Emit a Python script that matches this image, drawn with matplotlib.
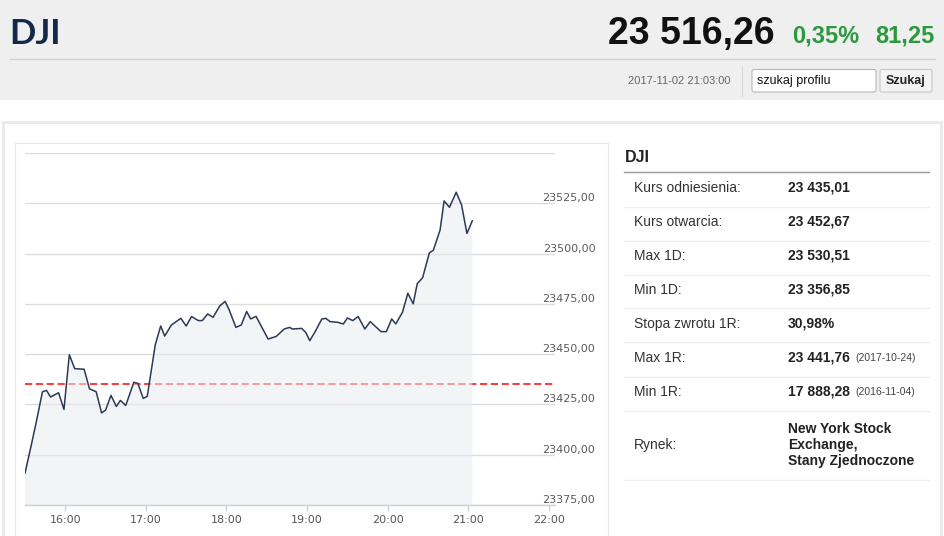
import numpy as np
import matplotlib
matplotlib.use("Agg")
import matplotlib.pyplot as plt
from matplotlib.patches import Rectangle, FancyBboxPatch

# data
times = ["15:30", "15:35", "15:38", "15:43", "15:46", "15:49", "15:55", "15:59", "16:03", "16:07",
         "16:14", "16:18", "16:23", "16:27", "16:30", "16:34", "16:38", "16:41", "16:45", "16:51",
         "16:54", "16:58", "17:01", "17:07", "17:11", "17:14", "17:19", "17:26", "17:30", "17:34",
         "17:39", "17:42", "17:46", "17:50", "17:55", "17:59", "18:02", "18:07", "18:11", "18:15",
         "18:18", "18:22", "18:25", "18:31", "18:37", "18:43", "18:47", "18:49", "18:56", "18:59",
         "19:02", "19:06", "19:11", "19:14", "19:17", "19:23", "19:27", "19:30", "19:34", "19:38",
         "19:43", "19:47", "19:51", "19:55", "19:59", "20:03", "20:06", "20:11", "20:15", "20:19",
         "20:22", "20:26", "20:31", "20:34", "20:39", "20:42", "20:46", "20:51", "20:55", "20:59",
         "21:03"]
prices = [23390.8, 23405.8, 23415.0, 23431.3, 23432.0, 23428.7, 23430.8, 23422.5, 23449.7, 23442.8,
          23442.5, 23432.8, 23431.3, 23420.8, 23422.2, 23429.5, 23424.0, 23427.0, 23424.5, 23436.0,
          23435.5, 23428.0, 23429.0, 23454.7, 23464.0, 23459.0, 23464.5, 23467.8, 23464.0, 23468.7,
          23466.7, 23466.7, 23470.0, 23468.3, 23474.0, 23476.2, 23472.0, 23463.3, 23464.5, 23471.2,
          23467.5, 23468.8, 23465.0, 23457.5, 23458.8, 23462.5, 23463.3, 23462.5, 23462.8, 23460.8,
          23456.7, 23461.2, 23467.5, 23467.8, 23466.2, 23465.8, 23465.0, 23468.0, 23466.7, 23468.7,
          23462.5, 23466.2, 23463.7, 23461.2, 23461.2, 23467.5, 23465.0, 23470.8, 23480.3, 23475.0,
          23485.0, 23488.0, 23500.3, 23501.7, 23511.7, 23526.2, 23523.0, 23530.5, 23524.2, 23510.0,
          23516.3]
ref_price = 23435.01
y_ticks = [23375, 23400, 23425, 23450, 23475, 23500, 23525, 23550]
x_hours = [16, 17, 18, 19, 20, 21, 22]

# side table
row_labels = ["Kurs odniesienia:", "Kurs otwarcia:", "Max 1D:", "Min 1D:",
              "Stopa zwrotu 1R:", "Max 1R:", "Min 1R:", "Rynek:"]
row_values = ["23 435,01", "23 452,67", "23 530,51", "23 356,85", "30,98%",
              "23 441,76", "17 888,28", "New York Stock\nExchange,\nStany Zjednoczone"]
row_notes = ["", "", "", "", "", "(2017-10-24)", "(2016-11-04)", ""]

hours = [int(t[:2]) + int(t[3:]) / 60 for t in times]

W, H = 945, 536
fig = plt.figure(figsize=(W / 100, H / 100), dpi=100)

# page background in pixel coords
bg = fig.add_axes([0, 0, 1, 1], zorder=0)
bg.set_xlim(0, W)
bg.set_ylim(H, 0)
bg.axis("off")

bg.add_patch(Rectangle((0, 0), W, 100, facecolor="#efefef", edgecolor="none"))
bg.plot([10, 935], [59, 59], color="#d2d2d2", lw=1)
bg.add_patch(Rectangle((3, 121.5), 938, 420, facecolor="white", edgecolor="#ebebeb", lw=2.2))
bg.add_patch(Rectangle((15, 143), 593, 400, facecolor="white", edgecolor="#e6e6e6", lw=0.8))

narrow = ["Liberation Sans Narrow", "Liberation Sans", "DejaVu Sans"]
bg.text(9, 34, "DJI", fontsize=25, fontweight="bold", color="#13284a",
        family=["Lato", "DejaVu Sans"], va="center", ha="left")
bg.text(775, 34, "23 516,26", fontsize=27, fontweight="bold", color="#111111",
        family=narrow, va="center", ha="right")
bg.text(792, 36, "0,35%", fontsize=17, fontweight="bold", color="#2a9a3c",
        family=narrow, va="center", ha="left")
bg.text(935, 36, "81,25", fontsize=17, fontweight="bold", color="#2a9a3c",
        family=narrow, va="center", ha="right")

bg.text(730, 81, "2017-11-02 21:03:00", fontsize=8, color="#666666",
        family=narrow, va="center", ha="right")
bg.plot([742, 742], [67, 96], color="#d8d8d8", lw=0.8)
bg.add_patch(FancyBboxPatch((752, 69.5), 124, 22.5, boxstyle="round,pad=0,rounding_size=2",
                            facecolor="white", edgecolor="#b8b8b8", lw=0.8))
bg.text(757, 81, "szukaj profilu", fontsize=9, color="#111111",
        family=narrow, va="center", ha="left")
bg.add_patch(FancyBboxPatch((880, 69.5), 52, 22.5, boxstyle="round,pad=0,rounding_size=2",
                            facecolor="#f3f3f3", edgecolor="#c8c8c8", lw=0.8))
bg.text(906, 81, "Szukaj", fontsize=9, fontweight="bold", color="#222222",
        family=narrow, va="center", ha="center")

# table
bg.text(625, 157, "DJI", fontsize=11.5, fontweight="bold", color="#222222",
        family="Liberation Sans", va="center", ha="left")
bg.plot([624, 929], [172, 172], color="#9a9a9a", lw=1)
row_y = [188, 222, 256, 290, 324, 358, 392, 445]
sep_y = [206.5, 240.5, 274.5, 308, 342, 377, 411, 480]
for lab, val, note, y, s in zip(row_labels, row_values, row_notes, row_y, sep_y):
    bg.text(634, y, lab, fontsize=10, color="#333333", family="Liberation Sans",
            va="center", ha="left")
    t = bg.text(788, y, val, fontsize=10, fontweight="bold", color="#222222",
                family="Liberation Sans", va="center", ha="left", linespacing=1.2)
    if note:
        bg.annotate(note, xy=(1, 0.5), xycoords=t, xytext=(4, 0), textcoords="offset points",
                    fontsize=7.5, color="#444444", family="Liberation Sans",
                    va="center", ha="left")
    bg.plot([624, 929], [s, s], color="#efefef", lw=1)

# chart
ax = fig.add_axes([25 / W, 1 - 505 / H, 530 / W, (505 - 153) / H], zorder=1)
ax.set_facecolor("none")
ax.set_xlim(15.5, 22.076)
ax.set_ylim(23375, 23550)

ax.axhline(ref_price, color="#ff2a2a", lw=1.3, dashes=(4, 2), zorder=1)
ax.fill_between(hours, prices, 23375, facecolor="#e8ebf0", alpha=0.55, lw=0, zorder=2)
ax.plot(hours, prices, color="#2c3a55", lw=1.1, zorder=3)

for s in ["top", "left", "right"]:
    ax.spines[s].set_visible(False)
ax.spines["bottom"].set_color("#c6d4e2")
ax.spines["bottom"].set_linewidth(1)

ax.set_yticks(y_ticks)
ax.yaxis.tick_right()
ax.set_yticklabels([f"{v},00" for v in y_ticks[:-1]] + [""])
ax.tick_params(axis="y", length=0, pad=29, labelsize=8, labelcolor="#5a5a5a")
for lbl in ax.get_yticklabels():
    lbl.set_horizontalalignment("right")
    lbl.set_verticalalignment("bottom")
ax.grid(axis="y", color="#dcdcdc", lw=1)
ax.set_axisbelow(True)

ax.set_xticks(x_hours)
ax.set_xticklabels([f"{h}:00" for h in x_hours])
ax.tick_params(axis="x", length=4, width=1, color="#c6d4e2", pad=3,
               labelsize=8, labelcolor="#555555")

fig.savefig("out.png", dpi=100)
